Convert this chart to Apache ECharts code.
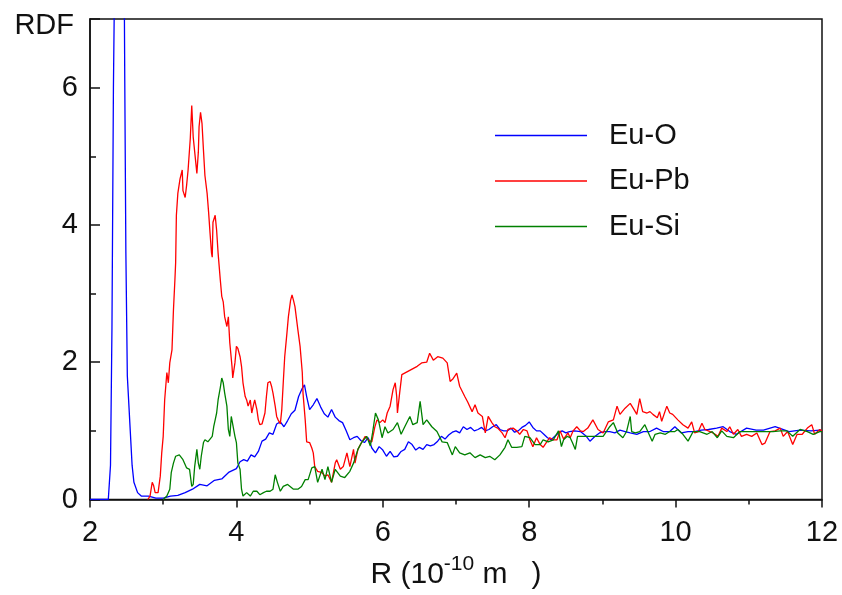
<!DOCTYPE html>
<html>
<head>
<meta charset="utf-8">
<script src="https://cdn.jsdelivr.net/npm/echarts@6/dist/echarts.min.js"></script>
<style>html,body{margin:0;padding:0;background:#fff}#c{width:842px;height:595px}</style>
</head>
<body>
<div id="c"></div>
<script>
// Eu-O
const rO = [2.0,2.25,2.28,2.30,2.32,2.34,2.36,2.40,2.44,2.465,2.475,2.49,2.51,2.55,2.575,2.60,2.65,2.7,2.8,2.9,3.0,3.1,3.2,3.3,3.4,3.5,3.6,3.7,3.8,3.9,4.0,4.05,4.1,4.15,4.2,4.25,4.3,4.35,4.4,4.45,4.5,4.55,4.6,4.65,4.7,4.75,4.8,4.85,4.9,4.93,4.96,5.0,5.05,5.1,5.15,5.2,5.25,5.3,5.35,5.4,5.45,5.5,5.55,5.6,5.65,5.7,5.75,5.8,5.85,5.9,5.95,6.0,6.05,6.1,6.15,6.2,6.25,6.3,6.35,6.4,6.45,6.5,6.55,6.6,6.65,6.7,6.75,6.8,6.85,6.9,6.95,7.0,7.05,7.1,7.15,7.2,7.25,7.3,7.35,7.4,7.45,7.5,7.55,7.6,7.65,7.7,7.75,7.8,7.85,7.9,7.95,8.0,8.05,8.1,8.15,8.2,8.25,8.3,8.35,8.4,8.45,8.5,8.55,8.62,8.7,8.78,8.83,8.9,8.96,9.03,9.1,9.17,9.24,9.31,9.38,9.47,9.56,9.65,9.74,9.83,9.92,9.99,10.08,10.17,10.26,10.35,10.45,10.56,10.65,10.74,10.83,10.97,11.1,11.2,11.36,11.55,11.7,11.85,11.97,12.0];
const gO = [0,0,0.5,2.5,6,8,12,14,12,8,6.1,3.6,1.8,1.0,0.5,0.25,0.1,0.05,0.05,0.02,0.02,0.05,0.06,0.1,0.15,0.22,0.2,0.28,0.3,0.4,0.45,0.55,0.58,0.56,0.65,0.62,0.7,0.85,0.88,0.97,0.95,1.1,1.13,1.06,1.15,1.25,1.3,1.5,1.62,1.67,1.5,1.31,1.38,1.47,1.35,1.25,1.2,1.31,1.2,1.15,1.12,1.0,0.87,0.9,0.92,0.86,0.83,0.9,0.75,0.68,0.77,0.72,0.63,0.7,0.62,0.63,0.7,0.73,0.84,0.8,0.72,0.76,0.73,0.8,0.78,0.8,0.85,0.92,0.88,0.94,0.98,1.0,0.97,1.06,1.02,1.05,1.0,1.02,1.05,1.0,1.02,1.06,1.09,1.02,1.0,1.0,1.04,0.98,1.0,1.05,1.08,1.13,1.05,1.0,1.0,0.95,0.9,0.87,0.92,0.97,1.0,0.97,0.99,1.0,0.99,0.92,0.85,0.92,0.97,0.99,0.99,0.97,1.01,0.99,0.97,0.95,0.99,0.99,1.04,0.99,0.99,1.06,0.97,0.99,0.99,1.01,1.02,1.04,1.06,0.99,0.95,1.04,1.01,1.01,1.06,0.99,1.01,1.0,1.01,1.0];
// Eu-Pb
const rPb = [2.79,2.82,2.85,2.87,2.89,2.93,2.96,2.98,3.00,3.02,3.05,3.07,3.09,3.12,3.14,3.16,3.17,3.18,3.20,3.23,3.26,3.27,3.30,3.32,3.34,3.37,3.39,3.40,3.41,3.43,3.46,3.48,3.49,3.51,3.53,3.55,3.57,3.60,3.62,3.64,3.66,3.67,3.68,3.71,3.73,3.75,3.78,3.80,3.82,3.84,3.87,3.89,3.91,3.94,3.95,3.98,4.00,4.02,4.05,4.07,4.09,4.12,4.14,4.16,4.19,4.21,4.23,4.25,4.28,4.30,4.32,4.35,4.37,4.39,4.41,4.43,4.46,4.48,4.50,4.53,4.55,4.57,4.60,4.62,4.64,4.66,4.69,4.71,4.74,4.76,4.78,4.80,4.84,4.87,4.90,4.91,4.94,4.96,5.00,5.03,5.05,5.07,5.11,5.17,5.21,5.25,5.30,5.35,5.37,5.42,5.46,5.51,5.55,5.60,5.62,5.66,5.71,5.76,5.80,5.85,5.89,5.92,5.96,6.00,6.03,6.06,6.10,6.14,6.17,6.19,6.20,6.23,6.26,6.28,6.33,6.40,6.47,6.53,6.60,6.64,6.69,6.75,6.82,6.88,6.92,6.96,7.01,7.05,7.12,7.16,7.22,7.26,7.30,7.36,7.40,7.44,7.49,7.53,7.57,7.63,7.67,7.71,7.78,7.83,7.87,7.92,7.97,8.01,8.05,8.10,8.15,8.19,8.24,8.28,8.33,8.38,8.42,8.47,8.53,8.56,8.60,8.65,8.70,8.74,8.80,8.87,8.94,9.01,9.08,9.15,9.20,9.24,9.31,9.38,9.42,9.47,9.51,9.55,9.61,9.65,9.69,9.75,9.78,9.81,9.88,9.92,9.96,10.03,10.10,10.17,10.22,10.26,10.31,10.36,10.40,10.47,10.54,10.58,10.63,10.70,10.74,10.79,10.85,10.90,10.97,11.04,11.11,11.18,11.22,11.29,11.36,11.43,11.47,11.53,11.60,11.66,11.73,11.80,11.86,11.90,11.97,12.0];
const gPb = [0,0.05,0.25,0.2,0.1,0.1,0.34,0.68,0.92,1.45,1.85,1.7,1.99,2.18,2.76,3.2,3.45,4.14,4.46,4.67,4.8,4.5,4.4,4.58,4.8,5.26,5.74,5.74,5.28,5.28,4.75,5.06,5.43,5.64,5.48,5.09,4.72,4.46,4.19,3.88,3.59,3.53,4.04,4.14,3.92,3.59,3.2,2.96,2.88,2.66,2.52,2.66,2.28,1.94,1.77,1.99,2.23,2.2,2.08,1.94,1.7,1.5,1.45,1.36,1.45,1.26,1.36,1.45,1.31,1.16,1.09,1.1,1.09,1.26,1.5,1.7,1.72,1.65,1.55,1.36,1.21,1.16,1.1,1.31,1.7,2.08,2.42,2.66,2.9,2.98,2.9,2.81,2.47,2.23,1.85,1.55,1.16,0.84,0.83,0.75,0.68,0.48,0.41,0.39,0.34,0.36,0.25,0.53,0.58,0.44,0.48,0.68,0.48,0.73,0.53,0.73,0.83,0.92,0.87,0.84,1.05,1.16,1.12,1.16,1.12,1.26,1.36,1.6,1.7,1.5,1.26,1.55,1.82,1.8,1.86,1.9,1.94,1.99,2.0,2.13,2.03,2.08,2.06,1.99,1.72,1.76,1.84,1.65,1.5,1.42,1.28,1.38,1.26,1.21,0.97,1.21,1.12,1.06,1.04,0.97,0.9,1.02,1.04,1.0,0.95,1.02,1.0,0.87,0.77,0.9,0.8,0.76,0.84,0.9,0.87,0.87,1.0,0.88,0.97,0.9,1.0,1.06,1.0,0.99,1.04,1.16,1.02,0.97,1.13,1.16,1.36,1.24,1.33,1.4,1.33,1.24,1.47,1.28,1.26,1.28,1.24,1.19,1.28,1.14,1.36,1.26,1.24,1.16,1.09,1.04,1.13,0.97,0.99,1.11,1.02,0.99,0.95,0.92,1.04,0.99,1.06,0.95,1.02,0.92,0.95,0.92,0.97,0.8,0.82,0.99,1.0,1.04,0.92,0.99,0.8,0.95,0.95,1.04,1.09,0.95,1.02,1.0];
// Eu-Si
const rSi = [3.00,3.05,3.09,3.11,3.14,3.17,3.22,3.27,3.32,3.36,3.39,3.41,3.43,3.46,3.48,3.50,3.52,3.55,3.57,3.61,3.64,3.67,3.69,3.71,3.73,3.75,3.78,3.80,3.82,3.84,3.87,3.89,3.91,3.93,3.95,3.98,4.00,4.02,4.05,4.07,4.09,4.14,4.19,4.23,4.28,4.32,4.37,4.41,4.46,4.50,4.53,4.56,4.60,4.64,4.70,4.78,4.84,4.89,4.94,4.98,5.03,5.07,5.11,5.17,5.21,5.25,5.30,5.35,5.42,5.48,5.55,5.60,5.66,5.71,5.78,5.83,5.86,5.90,5.94,5.99,6.03,6.07,6.14,6.20,6.25,6.30,6.37,6.41,6.47,6.51,6.55,6.60,6.67,6.74,6.81,6.88,6.95,6.99,7.05,7.12,7.19,7.26,7.33,7.40,7.46,7.53,7.60,7.67,7.71,7.76,7.83,7.90,7.94,8.01,8.08,8.15,8.19,8.26,8.33,8.40,8.44,8.47,8.52,8.56,8.59,8.63,8.66,8.72,8.80,8.93,9.01,9.10,9.15,9.21,9.28,9.33,9.38,9.40,9.45,9.51,9.58,9.62,9.68,9.72,9.79,9.86,9.92,9.99,10.03,10.10,10.17,10.24,10.33,10.43,10.50,10.57,10.63,10.70,10.79,10.88,10.97,11.06,11.15,11.24,11.33,11.43,11.52,11.60,11.70,11.80,11.88,11.97,12.0];
const gSi = [0,0.05,0.15,0.39,0.53,0.63,0.65,0.58,0.46,0.44,0.19,0.22,0.48,0.73,0.53,0.44,0.63,0.83,0.87,0.84,0.88,0.92,1.06,1.16,1.26,1.45,1.63,1.77,1.7,1.55,1.36,1.02,0.92,1.21,1.23,0.92,0.83,0.53,0.44,0.15,0.05,0.1,0.05,0.12,0.12,0.07,0.1,0.12,0.12,0.15,0.36,0.25,0.12,0.19,0.22,0.15,0.15,0.19,0.29,0.29,0.46,0.48,0.25,0.44,0.29,0.48,0.25,0.44,0.34,0.32,0.41,0.53,0.73,0.83,0.92,0.78,0.97,1.26,1.16,0.9,1.06,0.97,1.02,1.12,0.95,1.06,1.21,1.09,1.12,1.43,1.09,1.16,1.06,0.99,0.84,0.83,0.65,0.77,0.68,0.65,0.68,0.61,0.65,0.61,0.63,0.58,0.65,0.76,0.87,0.76,0.76,0.77,0.92,0.9,0.8,0.8,0.87,0.84,0.87,1.0,0.77,0.87,0.92,0.9,0.83,0.73,0.92,0.92,0.92,0.92,0.92,1.06,1.12,0.97,0.9,0.99,1.21,0.99,0.97,0.99,1.09,0.99,0.85,0.95,0.97,0.95,0.99,0.99,1.02,0.95,0.85,0.99,0.99,0.95,0.99,0.9,1.0,0.92,0.9,0.99,0.99,0.99,0.99,0.99,0.99,1.0,1.0,0.92,1.02,0.99,0.95,0.99,0.99];

const xTicks = [2, 4, 6, 8, 10, 12];
const yTicks = [0, 2, 4, 6];
const seriesNames = ['Eu-O', 'Eu-Pb', 'Eu-Si'];
const seriesColors = ['#0000ff', '#ff0000', '#008000'];

const zip = (xs, ys) => xs.map((x, i) => [x, ys[i]]);
const FONT = 'Liberation Sans, Arial, sans-serif';
const INK = '#111';

const chart = echarts.init(document.getElementById('c'), null, {renderer: 'canvas'});
chart.setOption({
  animation: false,
  backgroundColor: '#fff',
  grid: {left: 90, right: 20, top: 19, bottom: 95, show: true, borderColor: INK, borderWidth: 1.5},
  legend: {
    orient: 'vertical', left: 495, top: 121, padding: 0,
    icon: 'rect', itemWidth: 92, itemHeight: 1.5, itemGap: 16.5,
    textStyle: {fontSize: 29, lineHeight: 29, color: INK, fontFamily: FONT, padding: [0, 0, 0, 17]},
    data: seriesNames
  },
  xAxis: {
    type: 'value', min: xTicks[0], max: xTicks[xTicks.length - 1], interval: 2,
    name: '{a|R (10}{s|-10}{a| m}{p|)}', nameLocation: 'middle', nameGap: 54,
    nameTextStyle: {rich: {
      a: {fontSize: 30, color: INK, fontFamily: FONT},
      s: {fontSize: 21, color: INK, fontFamily: FONT, padding: [0, 0, 22, 0]},
      p: {fontSize: 30, color: INK, fontFamily: FONT, padding: [0, 0, 0, 24]}
    }},
    axisLine: {lineStyle: {color: INK, width: 1.5}},
    axisTick: {inside: false, length: 8, lineStyle: {color: INK, width: 1.5}},
    minorTick: {show: true, splitNumber: 2, length: 5, lineStyle: {color: INK, width: 1.5}},
    axisLabel: {fontSize: 29, color: INK, fontFamily: FONT, margin: 19},
    splitLine: {show: false}
  },
  yAxis: {
    type: 'value', min: 0, max: 7, interval: 2,
    name: 'RDF', nameLocation: 'end', nameGap: -7,
    nameTextStyle: {fontSize: 29, color: INK, fontFamily: FONT, align: 'right', verticalAlign: 'middle', padding: [0, 16, 0, 0]},
    axisLine: {lineStyle: {color: INK, width: 1.5}},
    axisTick: {inside: true, length: 10, lineStyle: {color: INK, width: 1.5}},
    minorTick: {show: true, splitNumber: 2, length: 6, lineStyle: {color: INK, width: 1.5}},
    axisLabel: {fontSize: 29, color: INK, fontFamily: FONT, margin: 12,
      formatter: v => yTicks.indexOf(v) >= 0 ? String(v) : ''},
    splitLine: {show: false}
  },
  series: [
    {name: seriesNames[0], type: 'line', data: zip(rO, gO), symbol: 'none', clip: true, color: seriesColors[0], lineStyle: {width: 1.3, color: seriesColors[0]}},
    {name: seriesNames[1], type: 'line', data: zip(rPb, gPb), symbol: 'none', clip: true, color: seriesColors[1], lineStyle: {width: 1.3, color: seriesColors[1]}},
    {name: seriesNames[2], type: 'line', data: zip(rSi, gSi), symbol: 'none', clip: true, color: seriesColors[2], lineStyle: {width: 1.3, color: seriesColors[2]}}
  ]
});
</script>
</body>
</html>
